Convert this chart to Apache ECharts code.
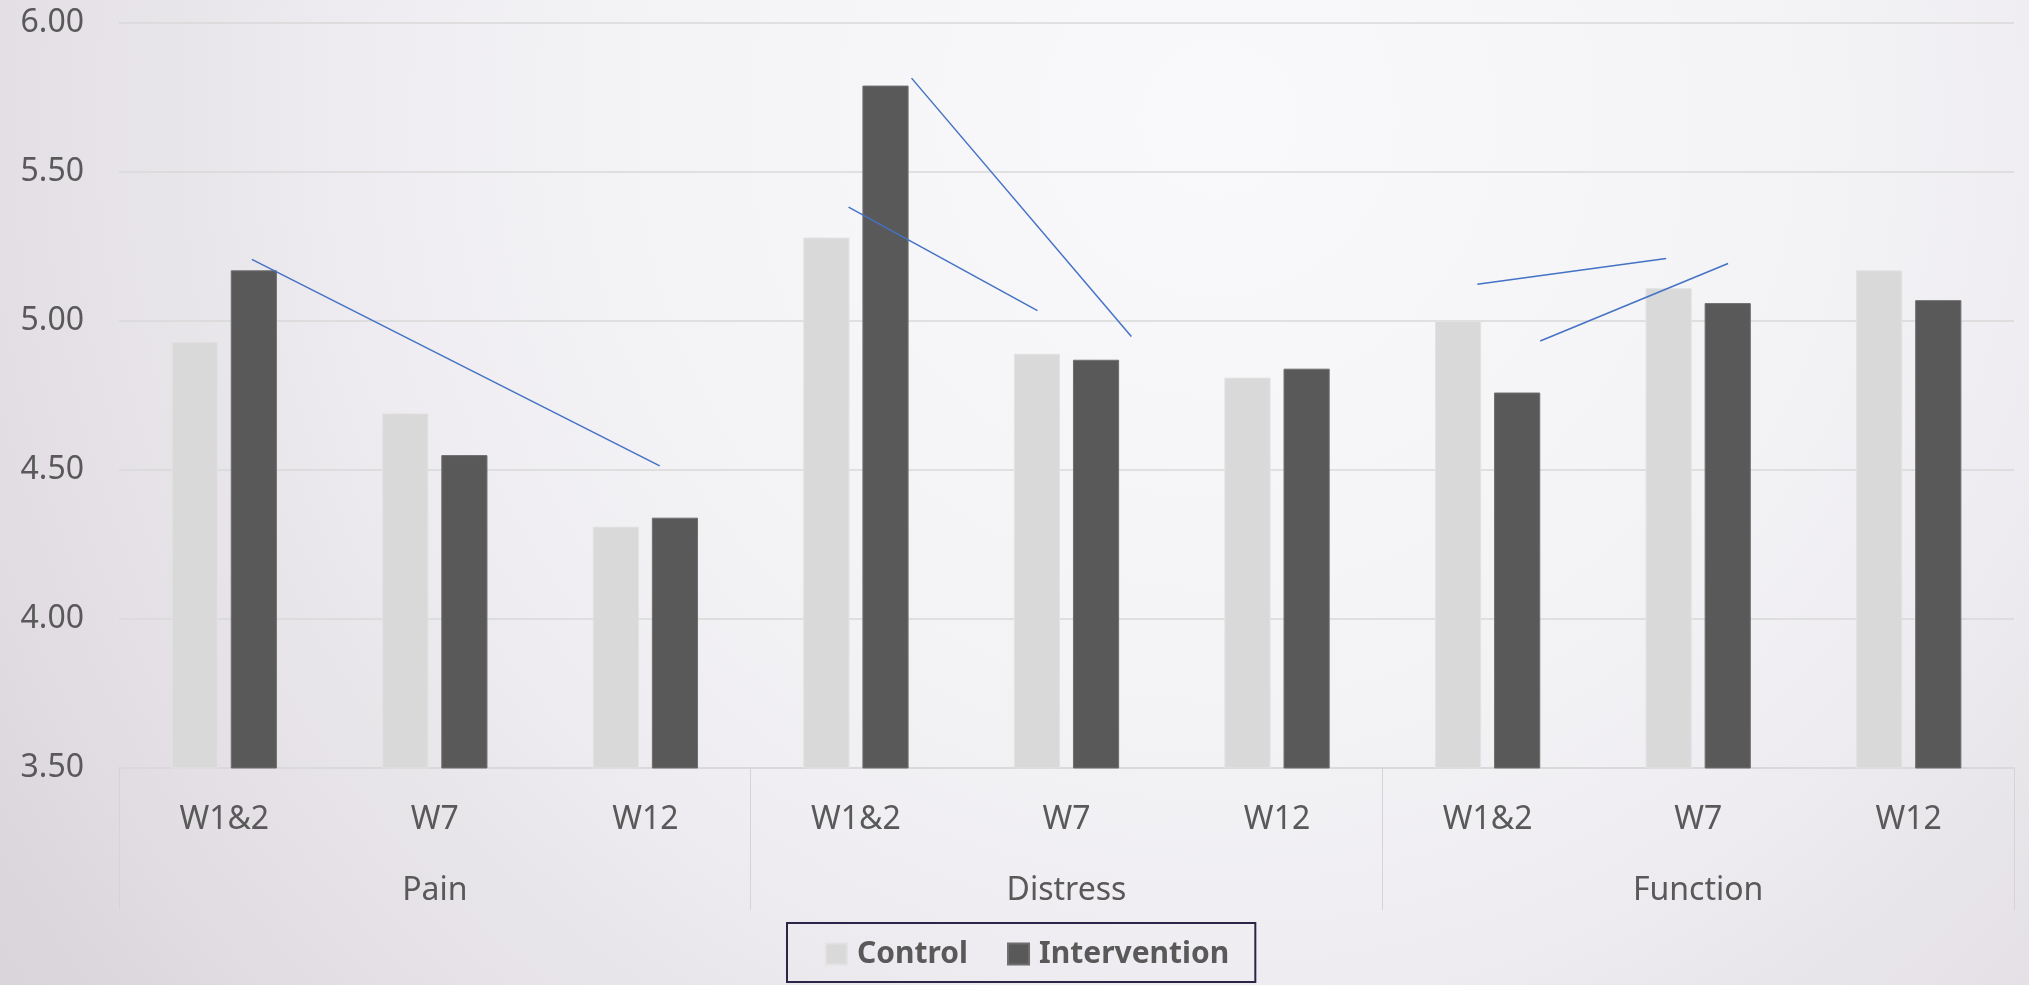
<!DOCTYPE html>
<html>
<head>
<meta charset="utf-8">
<script src="https://cdn.jsdelivr.net/npm/echarts@6/dist/echarts.min.js"></script>
<style>
html,body{margin:0;padding:0;width:2029px;height:985px;overflow:hidden;}
#chart{width:2029px;height:985px;}
</style>
</head>
<body>
<div id="chart"></div>
<script>
// ---- data ----
const groups = ['Pain', 'Distress', 'Function'];
const subCategories = ['W1&2', 'W7', 'W12', 'W1&2', 'W7', 'W12', 'W1&2', 'W7', 'W12'];
const seriesNames = ['Control', 'Intervention'];
const controlValues = [4.93, 4.69, 4.31, 5.28, 4.89, 4.81, 5.00, 5.11, 5.17];
const interventionValues = [5.17, 4.55, 4.34, 5.79, 4.87, 4.84, 4.76, 5.06, 5.07];
const yTicks = [3.5, 4.0, 4.5, 5.0, 5.5, 6.0];
// hand-drawn trend strokes, in (category position, value) units
const trendPain = [[0.131, 5.207], [2.068, 4.514]];
const trendDistressA = [[2.965, 5.382], [3.862, 5.035]];
const trendDistressB = [[3.264, 5.815], [4.308, 4.948]];
const trendFunctionA = [[5.951, 5.123], [6.848, 5.210]];
const trendFunctionB = [[6.250, 4.933], [7.142, 5.193]];

const FONT = '"Noto Sans", "DejaVu Sans", sans-serif';
const TEXT = '#595959';
const GRIDC = '#d9d9d9';

const chart = echarts.init(document.getElementById('chart'), null, {renderer: 'canvas'});

const trendSeries = [trendPain, trendDistressA, trendDistressB, trendFunctionA, trendFunctionB].map(d => ({
  type: 'line',
  xAxisIndex: 2,
  yAxisIndex: 0,
  data: d,
  symbol: 'none',
  silent: true,
  z: 5,
  lineStyle: {color: '#4472c4', width: 1.5}
}));

chart.setOption({
  animation: false,
  backgroundColor: {
    type: 'radial', x: 0.6, y: 0.12, r: 1.55,
    colorStops: [
      {offset: 0, color: '#f9f9fb'},
      {offset: 0.3, color: '#f5f5f7'},
      {offset: 0.55, color: '#efedf1'},
      {offset: 0.8, color: '#e3dfe4'},
      {offset: 1, color: '#d8d2d9'}
    ]
  },
  textStyle: {fontFamily: FONT},
  grid: {left: 119, right: 15, top: 23, bottom: 217, containLabel: false},
  legend: {
    data: seriesNames,
    left: 787,
    top: 923,
    orient: 'horizontal',
    icon: 'rect',
    itemWidth: 21,
    itemHeight: 21,
    itemGap: 39,
    padding: [15, 26, 12, 38],
    borderColor: '#2b2547',
    borderWidth: 2,
    textStyle: {fontFamily: FONT, fontSize: 30, fontWeight: 'bold', color: TEXT, lineHeight: 32, padding: [0, 0, 0, 5]}
  },
  xAxis: [
    {
      type: 'category',
      data: subCategories,
      position: 'bottom',
      axisLine: {show: true, lineStyle: {color: GRIDC, width: 2}},
      axisTick: {show: false},
      axisLabel: {fontFamily: FONT, fontSize: 32, color: TEXT, margin: 36, interval: 0},
      splitLine: {show: false}
    },
    {
      type: 'category',
      data: groups,
      position: 'bottom',
      axisLine: {show: false},
      axisTick: {show: true, length: 142, lineStyle: {color: '#d6d3d8', width: 1}},
      axisLabel: {fontFamily: FONT, fontSize: 32, color: TEXT, margin: 107, interval: 0},
      splitLine: {show: false}
    },
    {
      type: 'value',
      min: -0.5,
      max: 8.5,
      show: false
    }
  ],
  yAxis: {
    type: 'value',
    min: yTicks[0],
    max: yTicks[yTicks.length - 1],
    interval: 0.5,
    axisLine: {show: false},
    axisTick: {show: false},
    axisLabel: {fontFamily: FONT, fontSize: 32, color: TEXT, margin: 35, formatter: v => v.toFixed(2)},
    splitLine: {lineStyle: {color: GRIDC, width: 1.5}}
  },
  series: [
    {
      name: seriesNames[0],
      type: 'bar',
      xAxisIndex: 0,
      data: controlValues,
      barCategoryGap: '50%',
      barGap: '28%',
      itemStyle: {color: '#d9d9d9', borderColor: '#e2e2e2', borderWidth: 1}
    },
    {
      name: seriesNames[1],
      type: 'bar',
      xAxisIndex: 0,
      data: interventionValues,
      barCategoryGap: '50%',
      barGap: '28%',
      itemStyle: {color: '#595959', borderColor: '#6e6e6e', borderWidth: 1}
    }
  ].concat(trendSeries)
});
</script>
</body>
</html>
